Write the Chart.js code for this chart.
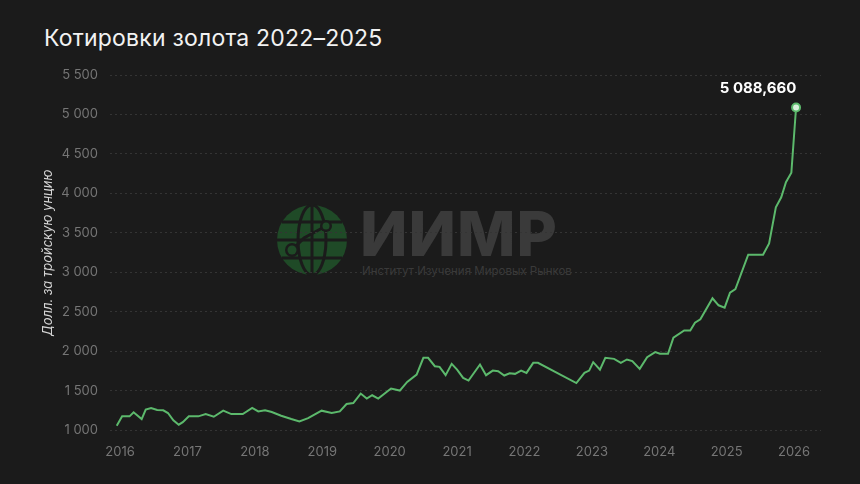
<!DOCTYPE html>
<html lang="ru">
<head>
<meta charset="utf-8">
<script src="https://cdn.jsdelivr.net/npm/chart.js@4"></script>
<style>
  html, body { margin: 0; padding: 0; background: #1b1b1b; }
  #wrap { position: relative; width: 860px; height: 484px; overflow: hidden; }
  h1 { position: absolute; left: 44px; top: 24px; margin: 0; font: 400 23px Inter, sans-serif; color: #f2f2f2; letter-spacing: 0.2px; }
  #mark { position: absolute; left: 276px; top: 204px; width: 320px; height: 80px; pointer-events: none; }
  #mark .big { position: absolute; left: 84px; top: -8px; font: 800 62px Inter, sans-serif; color: #3a3a3a; letter-spacing: 1px; }
  #mark .sub { position: absolute; left: 86px; top: 60px; font: 400 11.5px Inter, sans-serif; color: #3a3a3a; white-space: nowrap; }
  canvas { position: absolute; left: 0; top: 0; }
</style>
</head>
<body>
<div id="wrap">
  <h1>Котировки золота 2022–2025</h1>
  <div id="mark">
    <svg width="72" height="72" viewBox="0 0 72 72" style="position:absolute;left:0;top:0">
      <circle cx="36" cy="36" r="35" fill="#1f4a27"/>
      <g stroke="#1b1b1b" stroke-width="3" fill="none">
        <ellipse cx="36" cy="36" rx="14" ry="35"/>
        <line x1="36" y1="1" x2="36" y2="71"/>
        <line x1="1" y1="36" x2="71" y2="36"/>
        <path d="M6 18 H66 M6 54 H66"/>
        <path d="M16 46 L28 34 L50 22"/>
      </g>
      <circle cx="16" cy="46" r="7" fill="#1b1b1b"/>
      <circle cx="16" cy="46" r="4.5" fill="#1f4a27"/>
      <circle cx="50" cy="22" r="6" fill="#1b1b1b"/>
      <circle cx="50" cy="22" r="3.5" fill="#1f4a27"/>
    </svg>
    <div class="big">ИИМР</div>
    <div class="sub">Институт Изучения Мировых Рынков</div>
  </div>
  <canvas id="chart" width="860" height="484"></canvas>
</div>
<script>
// ── Данные ──
const dates = [
  2015.95, 2016.03, 2016.14, 2016.2, 2016.32, 2016.38, 2016.46, 2016.55, 2016.64, 2016.71,
  2016.79, 2016.87, 2016.93, 2017.02, 2017.16, 2017.27, 2017.39, 2017.53, 2017.65, 2017.82,
  2017.96, 2018.05, 2018.15, 2018.25, 2018.39, 2018.54, 2018.66, 2018.79, 2018.99, 2019.14,
  2019.26, 2019.36, 2019.46, 2019.57, 2019.66, 2019.74, 2019.83, 2020.02, 2020.15, 2020.26,
  2020.4, 2020.5, 2020.57, 2020.67, 2020.74, 2020.83, 2020.92, 2021.0, 2021.09, 2021.17,
  2021.34, 2021.43, 2021.53, 2021.61, 2021.7, 2021.78, 2021.86, 2021.95, 2022.03, 2022.13,
  2022.2, 2022.77, 2022.89, 2022.96, 2023.02, 2023.12, 2023.2, 2023.33, 2023.43, 2023.52,
  2023.6, 2023.71, 2023.82, 2023.94, 2024.01, 2024.13, 2024.21, 2024.37, 2024.46, 2024.53,
  2024.61, 2024.79, 2024.88, 2024.97, 2025.05, 2025.13, 2025.32, 2025.54, 2025.63, 2025.73,
  2025.81, 2025.88, 2025.96, 2026.03
];
const prices = [
  1060, 1178, 1178, 1229, 1144, 1263, 1284, 1258, 1254, 1220,
  1127, 1072, 1105, 1178, 1178, 1207, 1173, 1250, 1207, 1207,
  1284, 1241, 1254, 1233, 1186, 1144, 1114, 1156, 1250, 1220,
  1241, 1334, 1347, 1466, 1403, 1445, 1403, 1530, 1504, 1614,
  1707, 1919, 1919, 1813, 1805, 1699, 1842, 1770, 1665, 1631,
  1834, 1699, 1757, 1750, 1695, 1724, 1716, 1757, 1728, 1855,
  1855, 1600, 1728, 1757, 1864, 1770, 1919, 1906, 1855, 1898,
  1877, 1779, 1927, 1991, 1970, 1970, 2173, 2266, 2266, 2363,
  2406, 2673, 2584, 2554, 2745, 2788, 3224, 3224, 3367, 3825,
  3952, 4143, 4262, 5088.66
];
const yearTicks = [2016, 2017, 2018, 2019, 2020, 2021, 2022, 2023, 2024, 2025, 2026];
const lastLabel = '5 088,660';

const points = dates.map((d, i) => ({ x: d, y: prices[i] }));
const lastIdx = points.length - 1;

// подпись последней точки
const lastLabelPlugin = {
  id: 'lastLabel',
  afterDatasetsDraw(chart) {
    const pt = chart.getDatasetMeta(0).data[lastIdx];
    const ctx = chart.ctx;
    ctx.save();
    ctx.font = '700 15px Inter, sans-serif';
    ctx.fillStyle = '#ffffff';
    ctx.textAlign = 'center';
    ctx.textBaseline = 'bottom';
    ctx.fillText(lastLabel, pt.x - 38, pt.y - 12);
    ctx.restore();
  }
};

new Chart(document.getElementById('chart'), {
  type: 'line',
  data: {
    datasets: [{
      data: points,
      borderColor: '#5cb96c',
      borderWidth: 2,
      tension: 0,
      pointRadius: c => (c.dataIndex === lastIdx ? 4 : 0),
      pointBackgroundColor: '#d9f0dc',
      pointBorderColor: '#5cb96c',
      pointBorderWidth: 2,
    }],
  },
  options: {
    responsive: false,
    animation: false,
    layout: { padding: { left: 36, right: 39, top: 75, bottom: 18 } },
    plugins: { legend: { display: false }, tooltip: { enabled: false } },
    scales: {
      x: {
        type: 'linear',
        min: 2015.85,
        max: 2026.4,
        afterBuildTicks: axis => { axis.ticks = yearTicks.map(v => ({ value: v })); },
        ticks: { color: '#767676', font: { family: 'Inter', size: 13 }, padding: 6, callback: v => String(v) },
        grid: { display: false },
        border: { display: false },
      },
      y: {
        min: 1000,
        max: 5500,
        afterFit: axis => { axis.width = 74; },
        ticks: {
          stepSize: 500,
          color: '#767676',
          font: { family: 'Inter', size: 13 },
          padding: 12,
          callback: v => String(v).replace(/\B(?=(\d{3})+(?!\d))/g, ' '),
        },
        grid: { color: '#343434', lineWidth: 1, drawTicks: false },
        border: { display: false, dash: [2, 3] },
        title: {
          display: true,
          text: 'Долл. за тройскую унцию',
          color: '#d6d6d6',
          font: { family: 'Inter', size: 13, style: 'italic' },
          padding: { bottom: 0 },
        },
      },
    },
  },
  plugins: [lastLabelPlugin],
});
</script>
</body>
</html>
